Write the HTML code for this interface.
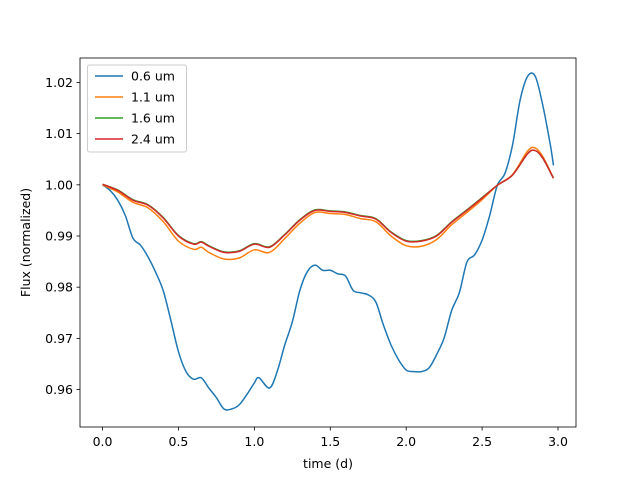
<!DOCTYPE html>
<html><head><meta charset="utf-8"><style>
body{margin:0;background:#fff;}
svg{display:block;font-family:"DejaVu Sans","Liberation Sans",sans-serif;}
</style></head><body>
<svg id="chart" width="640" height="480" viewBox="0 0 640 480">
<rect width="640" height="480" fill="#fff"/>
<g id="plot"></g>
</svg>
<script>
const times=[0,0.05,0.1,0.15,0.2,0.25,0.3,0.35,0.4,0.45,0.5,0.55,0.6,0.65,0.7,0.75,0.8,0.85,0.9,0.95,1.0,1.03,1.1,1.15,1.2,1.25,1.3,1.35,1.4,1.45,1.5,1.55,1.6,1.65,1.7,1.75,1.8,1.85,1.9,1.95,2.0,2.05,2.1,2.15,2.2,2.25,2.3,2.35,2.4,2.45,2.5,2.55,2.6,2.65,2.7,2.75,2.8,2.85,2.9,2.95,2.97];
const flux06=[1.0000,0.9989,0.9970,0.9940,0.9896,0.9882,0.9859,0.9829,0.9793,0.9735,0.9674,0.9635,0.9620,0.9623,0.9603,0.9584,0.9562,0.9562,0.9570,0.9590,0.9613,0.9623,0.9603,0.9635,0.9687,0.9732,0.9794,0.9831,0.9843,0.9833,0.9833,0.9826,0.9822,0.9794,0.9789,0.9785,0.9771,0.9726,0.9687,0.9658,0.9638,0.9635,0.9635,0.9642,0.9668,0.9701,0.9755,0.9789,0.9849,0.9863,0.9892,0.9940,0.9999,1.0022,1.0077,1.0165,1.0212,1.0212,1.0155,1.0077,1.0038];
const redT=[0,0.1,0.2,0.3,0.4,0.5,0.6,0.65,0.7,0.8,0.9,1.0,1.1,1.2,1.3,1.4,1.5,1.6,1.7,1.8,1.9,2.0,2.1,2.2,2.3,2.4,2.5,2.6,2.7,2.8,2.85,2.9,2.97];
const flux11=[1.0000,0.9986,0.9966,0.9955,0.9928,0.9890,0.9874,0.9878,0.9868,0.9855,0.9857,0.9873,0.9868,0.9895,0.9925,0.9946,0.9944,0.9942,0.9934,0.9928,0.9900,0.9881,0.9880,0.9893,0.9922,0.9946,0.9971,0.9999,1.0020,1.0066,1.0072,1.0055,1.0013];
const flux16=[1.0001,0.9990,0.9971,0.9961,0.9936,0.9901,0.9885,0.9889,0.9881,0.9869,0.9871,0.9885,0.9879,0.9903,0.9932,0.9951,0.9949,0.9947,0.9940,0.9934,0.9908,0.9891,0.9891,0.9901,0.9928,0.9951,0.9975,0.9999,1.0019,1.0061,1.0067,1.0052,1.0013];
const flux24=[1.0001,0.9989,0.9970,0.9960,0.9935,0.9900,0.9884,0.9888,0.9880,0.9868,0.9870,0.9884,0.9878,0.9902,0.9931,0.9950,0.9948,0.9946,0.9939,0.9933,0.9907,0.9890,0.9890,0.9900,0.9927,0.9950,0.9974,0.9999,1.0019,1.0061,1.0067,1.0052,1.0013];
const xTicks=[0.0,0.5,1.0,1.5,2.0,2.5,3.0];
const xTickLabels=["0.0","0.5","1.0","1.5","2.0","2.5","3.0"];
const yTicks=[0.96,0.97,0.98,0.99,1.00,1.01,1.02];
const yTickLabels=["0.96","0.97","0.98","0.99","1.00","1.01","1.02"];
const seriesNames=["0.6 um","1.1 um","1.6 um","2.4 um"];

const L=80,R=576,T=58,B=427;
const xmin=-0.1485,xmax=3.1185,ymin=0.95268,ymax=1.02478;
const X=v=>L+(v-xmin)/(xmax-xmin)*(R-L);
const Y=v=>B-(v-ymin)/(ymax-ymin)*(B-T);
const NS="http://www.w3.org/2000/svg";
const g=document.getElementById('plot');
const FS=12.5;
function mk(tag,attrs,parent){const e=document.createElementNS(NS,tag);for(const k in attrs)e.setAttribute(k,attrs[k]);(parent||g).appendChild(e);return e;}
function smooth(xs,ys){
  const P=xs.map((t,i)=>[X(t),Y(ys[i])]);
  let d='M'+P[0][0].toFixed(2)+' '+P[0][1].toFixed(2);
  for(let i=0;i<P.length-1;i++){
    const p0=P[Math.max(0,i-1)],p1=P[i],p2=P[i+1],p3=P[Math.min(P.length-1,i+2)];
    const c1=[p1[0]+(p2[0]-p0[0])/6,p1[1]+(p2[1]-p0[1])/6];
    const c2=[p2[0]-(p3[0]-p1[0])/6,p2[1]-(p3[1]-p1[1])/6];
    d+=' C'+c1[0].toFixed(2)+' '+c1[1].toFixed(2)+' '+c2[0].toFixed(2)+' '+c2[1].toFixed(2)+' '+p2[0].toFixed(2)+' '+p2[1].toFixed(2);
  }
  return d;
}

const series=[[times,flux06,"#1f77b4","line-0-6um"],[redT,flux11,"#ff7f0e","line-1-1um"],[redT,flux16,"#2ca02c","line-1-6um"],[redT,flux24,"#d62728","line-2-4um"]];
series.forEach(s=>{
  const p=mk('path',{d:smooth(s[0],s[1]),fill:'none',stroke:s[2],'stroke-width':1.5,'stroke-linejoin':'round'});
  
  
});

const frame=mk('rect',{x:L,y:T,width:R-L,height:B-T,fill:'none',stroke:'#000','stroke-width':0.8});



xTicks.forEach((v,i)=>{
  const x=X(v);
  const tk=mk('line',{x1:x,x2:x,y1:B,y2:B+3.5,stroke:'#000','stroke-width':0.8});
  
  
  const t=mk('text',{x:x,y:B+19,'font-size':FS,'text-anchor':'middle',fill:'#000'});
  t.textContent=xTickLabels[i];
  
  
});
yTicks.forEach((v,i)=>{
  const y=Y(v);
  const tk=mk('line',{x1:L-3.5,x2:L,y1:y,y2:y,stroke:'#000','stroke-width':0.8});
  
  
  const t=mk('text',{x:L-7,y:y+4.5,'font-size':FS,'text-anchor':'end',fill:'#000'});
  t.textContent=yTickLabels[i];
  
  
});
const xt=mk('text',{x:(L+R)/2,y:468,'font-size':FS,'text-anchor':'middle'});
xt.textContent='time (d)';


const yt=mk('text',{x:0,y:0,'font-size':FS,'text-anchor':'middle',transform:'translate(30,'+((T+B)/2)+') rotate(-90)'});
yt.textContent='Flux (normalized)';



const lg=mk('g',{});


mk('rect',{x:87.5,y:65,width:99,height:87,rx:2,fill:'#fff','fill-opacity':0.8,stroke:'#ccc','stroke-width':1},lg);
seriesNames.forEach((n,i)=>{
  const y=76+i*21;
  const e=mk('g',{},lg);
  
  
  mk('line',{x1:95,x2:123,y1:y,y2:y,stroke:series[i][2],'stroke-width':1.5},e);
  const t=mk('text',{x:131,y:y+4.5,'font-size':FS},e);
  t.textContent=n;
});
</script>
</body></html>
